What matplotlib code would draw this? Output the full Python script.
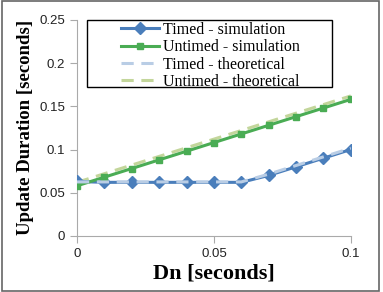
import matplotlib
matplotlib.use("Agg")
import matplotlib.pyplot as plt
from matplotlib.patches import Rectangle

dn = [0, 0.01, 0.02, 0.03, 0.04, 0.05, 0.06, 0.07, 0.08, 0.09, 0.1]
timed_sim = [0.063, 0.062, 0.062, 0.062, 0.062, 0.062, 0.062, 0.070, 0.080, 0.090, 0.100]
untimed_sim = [0.058, 0.068, 0.078, 0.088, 0.098, 0.108, 0.118, 0.128, 0.138, 0.148, 0.158]
timed_theo = [0.0625, 0.0625, 0.0625, 0.0625, 0.0625, 0.0625, 0.0625, 0.0715, 0.0815, 0.0915, 0.1015]
untimed_theo = [0.062, 0.072, 0.082, 0.092, 0.102, 0.112, 0.122, 0.132, 0.142, 0.152, 0.162]

blue = "#4a7ebb"
green = "#4aac54"
light_blue = "#b9cde5"
light_green = "#c3d69b"

fig = plt.figure(figsize=(3.83, 2.92), dpi=100)
ax = fig.add_axes([0.201, 0.192, 0.715, 0.74])

ax.plot(dn, timed_sim, color=blue, lw=2.2, marker="D", ms=6, label="Timed - simulation", zorder=3)
ax.plot(dn, untimed_sim, color=green, lw=2.2, marker="s", ms=5, label="Untimed - simulation", zorder=3)
ax.plot(dn, timed_theo, color=light_blue, lw=2.2, ls=(0, (4, 2.5)), label="Timed - theoretical", zorder=4)
ax.plot(dn, untimed_theo, color=light_green, lw=2.2, ls=(0, (4, 2.5)), label="Untimed - theoretical", zorder=2)

ax.set_xlim(0, 0.1)
ax.set_ylim(0, 0.25)
ax.set_xticks([0, 0.05, 0.1])
ax.set_xticklabels(["0", "0.05", "0.1"])
ax.set_yticks([0, 0.05, 0.1, 0.15, 0.2, 0.25])
ax.set_yticklabels(["0", "0.05", "0.1", "0.15", "0.2", "0.25"])
for s in ["top", "right"]:
    ax.spines[s].set_visible(False)
for s in ["left", "bottom"]:
    ax.spines[s].set_color("#aaaaaa")
ax.tick_params(colors="#aaaaaa", labelcolor="#222222", labelsize=9.5, length=5)

ax.set_xlabel("Dn [seconds]", family="Liberation Serif", weight="bold", fontsize=16, labelpad=3)
ax.set_ylabel("Update Duration [seconds]", family="Liberation Serif", weight="bold", fontsize=13.5, labelpad=4)
for t in ax.get_xticklabels() + ax.get_yticklabels():
    t.set_family("Liberation Sans")

# legend text and handles, box drawn separately (wide box like the original)
leg = ax.legend(loc="upper left", bbox_to_anchor=(0.161, 0.99), prop={"family": "Liberation Serif", "size": 11.5},
                frameon=False, borderpad=0, labelspacing=0.08,
                handlelength=2.4, handletextpad=0.2, borderaxespad=0)
ax.add_patch(Rectangle((0.035, 0.69), 0.895, 0.31, transform=ax.transAxes, fill=False,
                       edgecolor="black", lw=1.0, zorder=5, clip_on=False))

fig.patches.append(Rectangle((0.004, 0.002), 0.986, 0.994, transform=fig.transFigure,
                             fill=False, edgecolor="#666666", lw=1.2))

fig.savefig("out.png", dpi=100)
